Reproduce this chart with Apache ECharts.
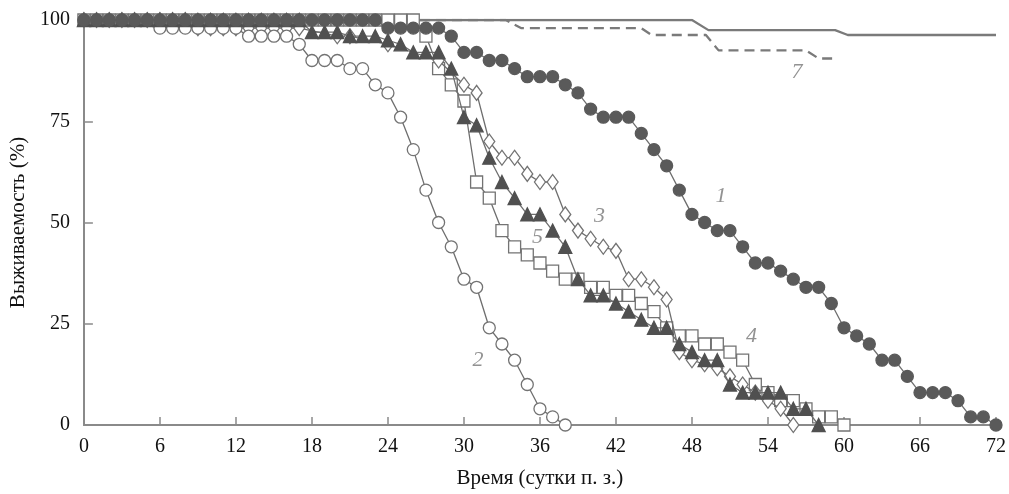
<!DOCTYPE html>
<html>
<head>
<meta charset="utf-8">
<script src="https://cdn.jsdelivr.net/npm/echarts@6/dist/echarts.min.js"></script>
<style>
  html, body { margin: 0; padding: 0; background: #fff; }
  #chart { width: 1009px; height: 494px; }
</style>
</head>
<body>
<div id="chart"></div>
<script>
// x ticks (days after infection) and y ticks (survival, %)
const dayTicks = [0, 6, 12, 18, 24, 30, 36, 42, 48, 54, 60, 66, 72];
const pctTicks = [0, 25, 50, 75, 100];

// curve 1 - filled circles
const c1Days = [0,1,2,3,4,5,6,7,8,9,10,11,12,13,14,15,16,17,18,19,20,21,22,23,24,25,26,27,28,29,30,31,32,33,34,35,36,37,38,39,40,41,42,43,44,45,46,47,48,49,50,51,52,53,54,55,56,57,58,59,60,61,62,63,64,65,66,67,68,69,70,71,72];
const c1Vals = [100,100,100,100,100,100,100,100,100,100,100,100,100,100,100,100,100,100,100,100,100,100,100,100,98,98,98,98,98,96,92,92,90,90,88,86,86,86,84,82,78,76,76,76,72,68,64,58,52,50,48,48,44,40,40,38,36,34,34,30,24,22,20,16,16,12,8,8,8,6,2,2,0];

// curve 2 - open circles
const c2Days = [0,1,2,3,4,5,6,7,8,9,10,11,12,13,14,15,16,17,18,19,20,21,22,23,24,25,26,27,28,29,30,31,32,33,34,35,36,37,38];
const c2Vals = [100,100,100,100,100,100,98,98,98,98,98,98,98,96,96,96,96,94,90,90,90,88,88,84,82,76,68,58,50,44,36,34,24,20,16,10,4,2,0];

// curve 3 - open diamonds
const c3Days = [0,1,2,3,4,5,6,7,8,9,10,11,12,13,14,15,16,17,20,21,24,28,30,31,32,33,34,35,36,37,38,39,40,41,42,43,44,45,46,47,48,49,50,51,52,53,54,55,56];
const c3Vals = [100,100,100,100,100,100,100,100,100,98,98,98,98,98,98,98,98,98,96,96,94,90,84,82,70,66,66,62,60,60,52,48,46,44,43,36,36,34,31,18,16,15,14,12,10,8,6,4,0];

// curve 4 - open squares
const c4Days = [0,1,2,3,4,5,6,7,8,9,10,11,12,13,14,15,16,17,18,19,20,21,22,23,24,25,26,27,28,29,30,31,32,33,34,35,36,37,38,39,40,41,42,43,44,45,46,47,48,49,50,51,52,53,54,55,56,57,58,59,60];
const c4Vals = [100,100,100,100,100,100,100,100,100,100,100,100,100,100,100,100,100,100,100,100,100,100,100,100,100,100,100,96,88,84,80,60,56,48,44,42,40,38,36,36,34,34,32,32,30,28,24,22,22,20,20,18,16,10,8,6,6,4,2,2,0];

// curve 5 - filled triangles
const c5Days = [0,1,2,3,4,5,6,7,8,9,10,11,12,13,14,15,16,17,18,19,20,21,22,23,24,25,26,27,28,29,30,31,32,33,34,35,36,37,38,39,40,41,42,43,44,45,46,47,48,49,50,51,52,53,54,55,56,57,58];
const c5Vals = [100,100,100,100,100,100,100,100,100,100,100,100,100,100,100,100,100,100,97,97,97,96,96,96,95,94,92,92,92,88,76,74,66,60,56,52,52,48,44,36,32,32,30,28,26,24,24,20,18,16,16,10,8,8,8,8,4,4,0];

// curve 6 - solid line, curve 7 - dashed line
const c6Days = [0, 48, 49.3, 59.3, 60.3, 72];
const c6Vals = [100, 100, 97.5, 97.5, 96.3, 96.3];
const c7Days = [0, 33.3, 34.5, 44, 44.8, 49.1, 50.1, 57, 58, 59.5];
const c7Vals = [100, 100, 98, 98, 96.3, 96.3, 92.5, 92.5, 90.5, 90.5];

// curve numbers placed in data coordinates
const curveNames = ['1', '2', '3', '4', '5', '6', '7'];
const curveNameDays = [50.3, 31.1, 40.7, 52.7, 35.8, 68.7, 56.3];
const curveNameVals = [56.5, 16, 51.6, 21.9, 46.4, 100.5, 87.2];

const serif = 'Liberation Serif';
const lineGray = '#6e6e6e';
const axisGray = '#8a8a8a';

const pairs = (d, v) => d.map((x, i) => [x, v[i]]);

function markedLine (days, vals, symbol, size, fill, z) {
    return {
        type: 'line',
        data: pairs(days, vals),
        symbol: symbol,
        symbolSize: size,
        showAllSymbol: true,
        clip: false,
        z: z,
        lineStyle: { color: lineGray, width: 1.3 },
        itemStyle: { color: fill, borderColor: fill === '#fff' ? '#737373' : fill, borderWidth: 1.3 }
    };
}

const myChart = echarts.init(document.getElementById('chart'));
const option = {
    animation: false,
    backgroundColor: '#fff',
    textStyle: { fontFamily: serif },
    grid: { left: 80, right: 8, top: 20, bottom: 67, containLabel: false },
    xAxis: {
        type: 'value',
        min: dayTicks[0],
        max: dayTicks[dayTicks.length - 1],
        interval: 6,
        name: 'Время (сутки п. з.)',
        nameLocation: 'middle',
        nameGap: 43,
        nameTextStyle: { fontFamily: serif, fontSize: 21, color: '#111' },
        axisLine: { show: true, lineStyle: { color: axisGray, width: 2 } },
        axisTick: { show: true, inside: true, length: 8, lineStyle: { color: axisGray, width: 1.5 } },
        axisLabel: { fontFamily: serif, fontSize: 20, color: '#111', margin: 12 },
        splitLine: { show: false }
    },
    yAxis: {
        type: 'value',
        min: pctTicks[0],
        max: pctTicks[pctTicks.length - 1],
        interval: 25,
        name: 'Выживаемость (%)',
        nameLocation: 'middle',
        nameGap: 52,
        nameRotate: 90,
        nameTextStyle: { fontFamily: serif, fontSize: 21, color: '#111' },
        axisLine: { show: true, lineStyle: { color: axisGray, width: 2 } },
        axisTick: { show: true, inside: true, length: 9, lineStyle: { color: axisGray, width: 1.5 } },
        axisLabel: { fontFamily: serif, fontSize: 20, color: '#111', margin: 14 },
        splitLine: { show: false }
    },
    series: [
        {
            type: 'line',
            data: pairs(c6Days, c6Vals),
            symbol: 'none',
            z: 1,
            lineStyle: { color: '#7a7a7a', width: 2.3 }
        },
        {
            type: 'line',
            data: pairs(c7Days, c7Vals),
            symbol: 'none',
            z: 1,
            lineStyle: { color: '#7a7a7a', width: 2.3, type: [10, 6] }
        },
        markedLine(c4Days, c4Vals, 'rect', 12, '#fff', 2),
        markedLine(c3Days, c3Vals, 'diamond', [11, 15], '#fff', 3),
        markedLine(c2Days, c2Vals, 'circle', 12, '#fff', 4),
        markedLine(c5Days, c5Vals, 'triangle', 13, '#505050', 5),
        markedLine(c1Days, c1Vals, 'circle', 12, '#5a5a5a', 6),
        {
            type: 'scatter',
            symbolSize: 0,
            z: 10,
            data: curveNames.map((n, i) => ({ name: n, value: [curveNameDays[i], curveNameVals[i]] })),
            label: {
                show: true,
                position: 'inside',
                formatter: p => p.name,
                fontFamily: serif,
                fontStyle: 'italic',
                fontSize: 22,
                color: '#777'
            }
        }
    ]
};
myChart.setOption(option);
window.addEventListener('resize', () => {
    myChart.resize();
});
</script>
</body>
</html>
